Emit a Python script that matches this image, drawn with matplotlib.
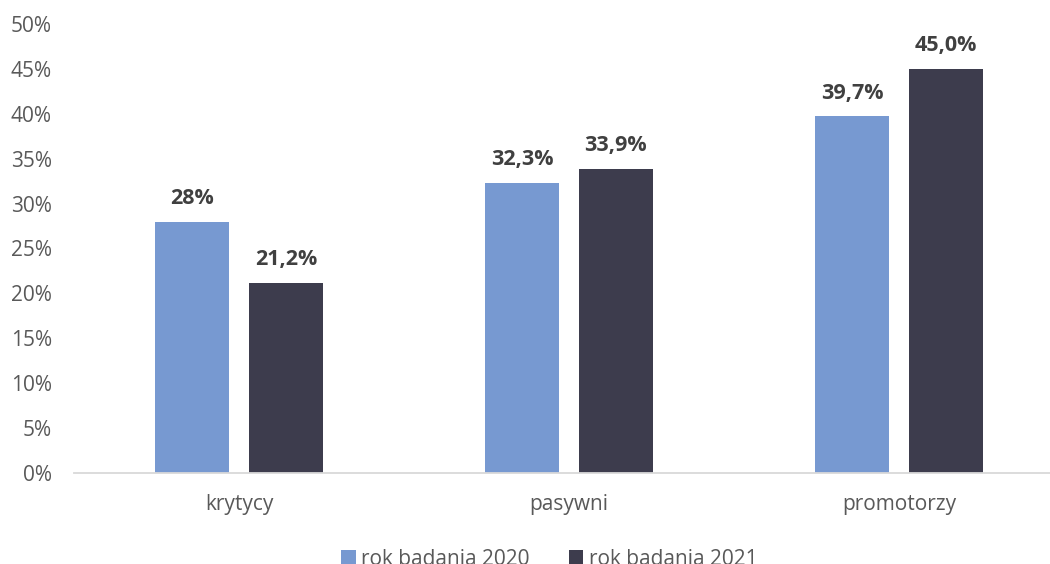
import matplotlib
matplotlib.use('Agg')
import matplotlib.pyplot as plt
import numpy as np
from matplotlib.ticker import FuncFormatter

plt.rcParams['font.family'] = ['Open Sans', 'DejaVu Sans']

categories = ['krytycy', 'pasywni', 'promotorzy']
series_names = ['rok badania 2020', 'rok badania 2021']
values_2020 = [28.0, 32.3, 39.7]
values_2021 = [21.2, 33.9, 45.0]
labels_2020 = ['28%', '32,3%', '39,7%']
labels_2021 = ['21,2%', '33,9%', '45,0%']

COLORS = ['#7799D1', '#3D3C4D']
TEXT = '#595959'

fig = plt.figure(figsize=(10.5, 5.64), dpi=100)
ax = fig.add_axes([74 / 1050, 91 / 564, 990 / 1050, 449 / 564])

x = np.arange(len(categories))
w = 0.224
off = 0.142
b1 = ax.bar(x - off, values_2020, w, color=COLORS[0], label=series_names[0], zorder=2)
b2 = ax.bar(x + off, values_2021, w, color=COLORS[1], label=series_names[1], zorder=2)

for bars, labs in ((b1, labels_2020), (b2, labels_2021)):
    for bar, lab in zip(bars, labs):
        ax.annotate(lab, (bar.get_x() + bar.get_width() / 2, bar.get_height()),
                    xytext=(0, 9), textcoords='offset points', ha='center', va='bottom',
                    fontsize=15.5, fontweight='bold', color='#404040')

ax.set_xlim(-0.5, 2.5)
ax.set_ylim(0, 50)
ax.set_yticks(np.arange(0, 51, 5))
ax.yaxis.set_major_formatter(FuncFormatter(lambda v, p: f'{v:.0f}%'))
ax.set_xticks(x)
ax.set_xticklabels(categories)
ax.tick_params(axis='both', length=0, labelsize=15, colors=TEXT)
ax.tick_params(axis='x', pad=15)
ax.tick_params(axis='y', pad=16)
for s in ('top', 'right', 'left'):
    ax.spines[s].set_visible(False)
ax.spines['bottom'].set_color('#D9D9D9')
ax.spines['bottom'].set_linewidth(1.3)

fig.legend(handles=[b1, b2], labels=series_names, loc='center', ncol=2,
           bbox_to_anchor=(0.523, 0.008), frameon=False, fontsize=15,
           labelcolor=TEXT, handlelength=0.7, handleheight=0.7,
           handletextpad=0.25, columnspacing=1.9)

fig.savefig('out.png', dpi=100)
